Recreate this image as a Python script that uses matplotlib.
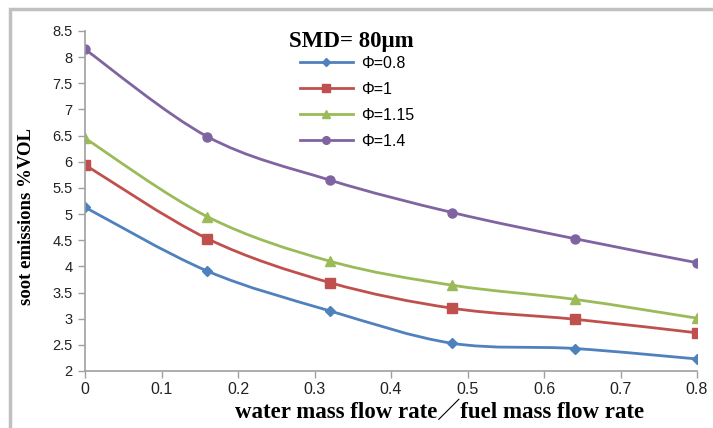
import numpy as np
import matplotlib
matplotlib.use('Agg')
import matplotlib.pyplot as plt
from matplotlib.path import Path
from matplotlib.patches import PathPatch, Rectangle
from matplotlib.lines import Line2D

# 数据
ratio = [0, 0.16, 0.32, 0.48, 0.64, 0.8]
phi_08 = [5.13, 3.91, 3.15, 2.53, 2.43, 2.23]
phi_10 = [5.94, 4.53, 3.69, 3.20, 2.99, 2.73]
phi_115 = [6.45, 4.95, 4.10, 3.64, 3.37, 3.01]
phi_14 = [8.15, 6.48, 5.65, 5.03, 4.53, 4.07]
labels = ['Φ=0.8', 'Φ=1', 'Φ=1.15', 'Φ=1.4']
colors = ['#4F81BD', '#C0504D', '#9BBB59', '#8064A2']
markers = ['D', 's', '^', 'o']
msizes = [5, 6.5, 7, 6.5]
yticks = np.arange(2, 8.51, 0.5)
xticks = np.arange(0, 0.81, 0.1)


def smooth_path(x, y):
    # Excel 风格的平滑线：三次贝塞尔曲线
    pts = np.column_stack([x, y])
    ext = np.vstack([pts[0], pts, pts[-1]])
    verts = [pts[0]]
    codes = [Path.MOVETO]
    for i in range(len(pts) - 1):
        c1 = ext[i + 1] + (ext[i + 2] - ext[i]) / 6
        c2 = ext[i + 2] - (ext[i + 3] - ext[i + 1]) / 6
        verts += [c1, c2, ext[i + 2]]
        codes += [Path.CURVE4] * 3
    return Path(verts, codes)


fig = plt.figure(figsize=(7.13, 4.28), dpi=100)
ax = fig.add_axes([85 / 713, 1 - 371 / 428, 612 / 713, 340 / 428])

series = [phi_08, phi_10, phi_115, phi_14]
handles = []
for vals, c, m, ms, lab in zip(series, colors, markers, msizes, labels):
    ax.add_patch(PathPatch(smooth_path(ratio, vals), facecolor='none',
                           edgecolor=c, linewidth=2))
    ax.plot(ratio, vals, linestyle='none', marker=m, markersize=ms, color=c)
    handles.append(Line2D([], [], color=c, marker=m, markersize=ms - 1, linewidth=2))

ax.set_xlim(0, 0.8)
ax.set_ylim(2, 8.5)
ax.set_xticks(xticks)
ax.set_xticklabels(['0'] + ['%.1f' % v for v in xticks[1:]])
ax.set_yticks(yticks)
ax.set_yticklabels(['%g' % v for v in yticks])
for s in ['top', 'right']:
    ax.spines[s].set_visible(False)
for s in ['left', 'bottom']:
    ax.spines[s].set_color('#a0a0a0')
    ax.spines[s].set_linewidth(1.2)
ax.tick_params(axis='both', direction='out', length=5, color='#a0a0a0', width=1)
ax.tick_params(axis='y', labelsize=10.5, pad=4)
ax.tick_params(axis='x', labelsize=11.5, pad=3)
for t in ax.get_xticklabels() + ax.get_yticklabels():
    t.set_family('Liberation Sans')
    t.set_color('#222222')

ax.set_xlabel('water mass flow rate／fuel mass flow rate', fontsize=16.5,
              fontweight='bold', family=['Liberation Serif', 'Noto Sans CJK SC'])
ax.xaxis.set_label_coords((440 - 85) / 612, -30 / 340)
ax.set_ylabel('soot emissions %VOL', fontsize=13.5, fontweight='bold',
              family='Liberation Serif')
ax.yaxis.set_label_coords(-50 / 612, 0.453)

fig.text(351 / 713, 1 - 42 / 428, 'SMD= 80μm', ha='center', va='center',
         fontsize=16.5, fontweight='bold', family='Liberation Serif')
leg = fig.legend(handles, labels, loc='upper left', bbox_to_anchor=(300 / 713, 1 - 56 / 428),
                 bbox_transform=fig.transFigure, frameon=False, borderpad=0,
                 borderaxespad=0, handlelength=3.3, handletextpad=0.55,
                 labelspacing=0.68, prop={'family': 'Liberation Sans', 'size': 11.5})

# 外边框
fig.patches.append(Rectangle((10 / 713, -0.1), 1.1, 1 - 9 / 428 + 0.1,
                             transform=fig.transFigure, fill=False,
                             edgecolor='#c0c0c0', linewidth=2.5))

fig.savefig('out.png', dpi=100)
